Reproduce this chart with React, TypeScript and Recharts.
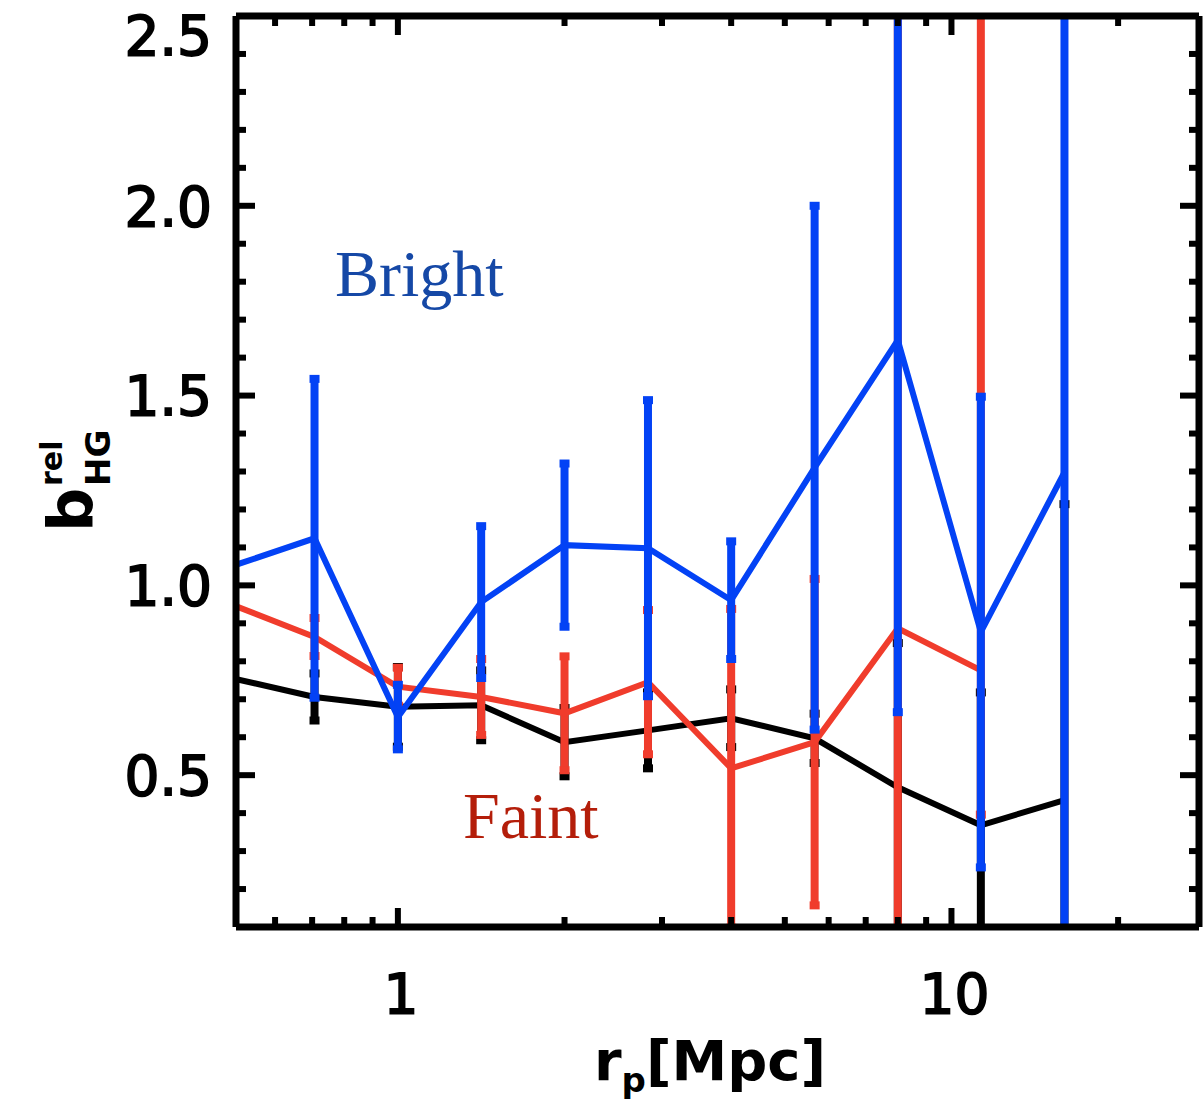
import React from 'react';
import { ComposedChart, Line, XAxis, YAxis, ErrorBar } from 'recharts';

// Projected separation bins [Mpc]
const RP = [0.5, 0.707, 1.0, 1.414, 2.0, 2.83, 4.0, 5.66, 8.0, 11.3, 16.0];

// Relative bias, full sample (black)
const ALL = [0.756, 0.706, 0.68, 0.684, 0.587, 0.618, 0.65, 0.597, 0.468, 0.368, 0.434];
const ALL_ERR = [0.06, 0.062, 0.105, 0.092, 0.09, 0.1, 0.076, 0.065, 0.38, 0.35, 0.78];

// Relative bias, faint subsample (red); the 11.3 Mpc bin has [lower, upper] errors
const FAINT = [0.95, 0.864, 0.733, 0.706, 0.663, 0.745, 0.518, 0.587, 0.887, 0.776, null];
const FAINT_ERR: (number | number[] | null)[] = [
  0.16, 0.05, 0.05, 0.1, 0.15, 0.19, 0.42, 0.43, 1.7, [0.38, 1.9], null,
];

// Relative bias, bright subsample (blue)
const BRIGHT = [1.05, 1.124, 0.653, 0.956, 1.106, 1.098, 0.961, 1.31, 1.646, 0.877, 1.298];
const BRIGHT_ERR = [0.38, 0.42, 0.085, 0.2, 0.215, 0.39, 0.155, 0.69, 0.98, 0.62, 1.5];

// Axis ticks
const X_TICKS = [0.6, 0.7, 0.8, 0.9, 1, 2, 3, 4, 5, 6, 7, 8, 9, 10, 20];
const X_LABELS = [1, 10];
const Y_TICKS = [
  0.2, 0.3, 0.4, 0.5, 0.6, 0.7, 0.8, 0.9, 1.0, 1.1, 1.2, 1.3, 1.4, 1.5,
  1.6, 1.7, 1.8, 1.9, 2.0, 2.1, 2.2, 2.3, 2.4, 2.5,
];
const Y_LABELS = [0.5, 1.0, 1.5, 2.0, 2.5];

const X_DOMAIN = [0.51, 28];
const Y_DOMAIN = [0.1, 2.5];

const data = RP.map((rp, i) => ({
  rp,
  all: ALL[i],
  allErr: ALL_ERR[i],
  faint: FAINT[i],
  faintErr: FAINT_ERR[i],
  bright: BRIGHT[i],
  brightErr: BRIGHT_ERR[i],
}));

// Canvas and plot frame
const W = 1203;
const H = 1108;
const PLOT_LEFT = 236;
const PLOT_RIGHT_GAP = 4;
const PLOT_TOP = 16;
const PLOT_BOTTOM_GAP = 181;

const BLUE = '#0342F5';
const RED = '#F03C2C';
const AXIS_FONT = '"DejaVu Sans", Verdana, sans-serif';
const SERIF = '"Liberation Serif", "Times New Roman", serif';
const TICK_W = 6;
const MAJOR_LEN = 19;
const MINOR_LEN = 10;

const isMajorY = (v: number) => Y_LABELS.some((m) => Math.abs(m - v) < 1e-6);
const isMajorX = (v: number) => X_LABELS.some((m) => Math.abs(m - v) < 1e-6);

const labelStyle = {
  fontFamily: AXIS_FONT,
  fontSize: 55,
  fill: '#000',
  stroke: '#000',
  strokeWidth: 1.8,
};

const BottomTick = (props: any) => {
  const { x, y, payload } = props;
  const major = isMajorX(payload.value);
  const len = major ? MAJOR_LEN : MINOR_LEN;
  return (
    <g>
      <line x1={x} x2={x} y1={y} y2={y - len} stroke="#000" strokeWidth={TICK_W} />
      {major && (
        <text x={x + 3} y={y + 86} textAnchor="middle" {...labelStyle}>
          {payload.value}
        </text>
      )}
    </g>
  );
};

const TopTick = (props: any) => {
  const { x, y, payload } = props;
  const len = isMajorX(payload.value) ? MAJOR_LEN : MINOR_LEN;
  return <line x1={x} x2={x} y1={y} y2={y + len} stroke="#000" strokeWidth={TICK_W} />;
};

const LeftTick = (props: any) => {
  const { x, y, payload } = props;
  const major = isMajorY(payload.value);
  const len = major ? MAJOR_LEN : MINOR_LEN;
  return (
    <g>
      <line x1={x} x2={x + len} y1={y} y2={y} stroke="#000" strokeWidth={TICK_W} />
      {major && (
        <text x={x - 24} y={Math.max(y, 35)} dy="0.36em" textAnchor="end" {...labelStyle}>
          {Number(payload.value).toFixed(1)}
        </text>
      )}
    </g>
  );
};

const RightTick = (props: any) => {
  const { x, y, payload } = props;
  const len = isMajorY(payload.value) ? MAJOR_LEN : MINOR_LEN;
  return <line x1={x} x2={x - len} y1={y} y2={y} stroke="#000" strokeWidth={TICK_W} />;
};

const axisLine = { stroke: '#000', strokeWidth: 7 };

export default function App() {
  return (
    <div style={{ position: 'absolute', left: 0, top: 0, width: W, height: H, background: '#fff' }}>
      {/* keep error bars inside the plotting frame */}
      <style>{`.recharts-errorBars { clip-path: url(#plot-frame-clip); }`}</style>
      <svg width={0} height={0} style={{ position: 'absolute' }}>
        <defs>
          <clipPath id="plot-frame-clip" clipPathUnits="userSpaceOnUse">
            <rect
              x={PLOT_LEFT}
              y={PLOT_TOP}
              width={W - PLOT_LEFT - PLOT_RIGHT_GAP}
              height={H - PLOT_TOP - PLOT_BOTTOM_GAP}
            />
          </clipPath>
        </defs>
      </svg>
      <ComposedChart width={W} height={H} data={data} margin={{ top: 0, right: 0, bottom: 0, left: 0 }}>
        <XAxis
          xAxisId="bottom"
          dataKey="rp"
          type="number"
          scale="log"
          domain={X_DOMAIN}
          allowDataOverflow
          ticks={X_TICKS}
          interval={0}
          height={PLOT_BOTTOM_GAP}
          tickSize={0}
          tickMargin={0}
          tickLine={false}
          axisLine={axisLine}
          tick={BottomTick}
        />
        <XAxis
          xAxisId="top"
          orientation="top"
          dataKey="rp"
          type="number"
          scale="log"
          domain={X_DOMAIN}
          allowDataOverflow
          ticks={X_TICKS}
          interval={0}
          height={PLOT_TOP}
          tickSize={0}
          tickMargin={0}
          tickLine={false}
          axisLine={axisLine}
          tick={TopTick}
        />
        <YAxis
          yAxisId="left"
          type="number"
          domain={Y_DOMAIN}
          allowDataOverflow
          ticks={Y_TICKS}
          interval={0}
          width={PLOT_LEFT}
          tickSize={0}
          tickMargin={0}
          tickLine={false}
          axisLine={axisLine}
          tick={LeftTick}
        />
        <YAxis
          yAxisId="right"
          orientation="right"
          type="number"
          domain={Y_DOMAIN}
          allowDataOverflow
          ticks={Y_TICKS}
          interval={0}
          width={PLOT_RIGHT_GAP}
          tickSize={0}
          tickMargin={0}
          tickLine={false}
          axisLine={axisLine}
          tick={RightTick}
        />
        <Line
          xAxisId="bottom"
          yAxisId="left"
          dataKey="all"
          type="linear"
          stroke="#000"
          strokeWidth={6}
          dot={false}
          isAnimationActive={false}
        >
          <ErrorBar dataKey="allErr" direction="y" width={5} stroke="#000" strokeWidth={8} isAnimationActive={false} />
        </Line>
        <Line
          xAxisId="bottom"
          yAxisId="left"
          dataKey="faint"
          type="linear"
          stroke={RED}
          strokeWidth={6}
          dot={false}
          isAnimationActive={false}
        >
          <ErrorBar dataKey="faintErr" direction="y" width={5} stroke={RED} strokeWidth={8} isAnimationActive={false} />
        </Line>
        <Line
          xAxisId="bottom"
          yAxisId="left"
          dataKey="bright"
          type="linear"
          stroke={BLUE}
          strokeWidth={6}
          dot={false}
          isAnimationActive={false}
        >
          <ErrorBar dataKey="brightErr" direction="y" width={5} stroke={BLUE} strokeWidth={8} isAnimationActive={false} />
        </Line>
      </ComposedChart>
      <svg
        width={W}
        height={H}
        style={{ position: 'absolute', left: 0, top: 0, pointerEvents: 'none' }}
      >
        <text x={335} y={296} fontFamily={SERIF} fontSize={66} fill="#1548A6">
          Bright
        </text>
        <text x={463} y={838} fontFamily={SERIF} fontSize={66} fill="#B41E0A">
          Faint
        </text>
        <text
          x={710}
          y={1080}
          textAnchor="middle"
          fontFamily={AXIS_FONT}
          fontWeight="bold"
          fontSize={56}
          fill="#000"
        >
          r<tspan fontSize={34} dy={12}>p</tspan>
          <tspan dy={-12}>[Mpc]</tspan>
        </text>
        <g transform="translate(92, 532) rotate(-90)">
          <text x={0} y={0} fontFamily={AXIS_FONT} fontWeight="bold" fontSize={62} fill="#000">
            b
          </text>
          <text x={46} y={-30} fontFamily={AXIS_FONT} fontWeight="bold" fontSize={30} fill="#000">
            rel
          </text>
          <text x={46} y={18} fontFamily={AXIS_FONT} fontWeight="bold" fontSize={34} fill="#000">
            HG
          </text>
        </g>
      </svg>
    </div>
  );
}
